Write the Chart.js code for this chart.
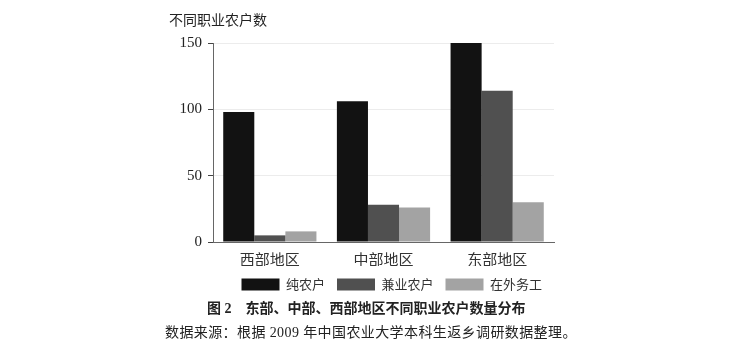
<!DOCTYPE html>
<html lang="zh">
<head>
    <meta charset="UTF-8">
    <title>东部、中部、西部地区不同职业农户数量分布</title>
    <script src="https://cdn.jsdelivr.net/npm/chart.js"></script>
    <style>
        body { margin: 0; background: #fff; width: 733px; height: 351px; position: relative; overflow: hidden;
               font-family: "Liberation Serif", "Noto Sans CJK SC", serif; color: #222; }
        #wrap { position: absolute; left: 0; top: 0; width: 733px; height: 301px; }
        .txt { position: absolute; white-space: nowrap; }
        #ytitle { left: 169px; top: 9px; font-size: 14px; }
        #caption { left: 207px; top: 297px; font-size: 14px; font-weight: bold; }
        #source { left: 165px; top: 321px; font-size: 14px; letter-spacing: 0.4px; }
    </style>
</head>
<body>
    <div id="wrap"><canvas id="chart"></canvas></div>
    <div class="txt" id="ytitle">不同职业农户数</div>
    <div class="txt" id="caption">图 2&emsp;东部、中部、西部地区不同职业农户数量分布</div>
    <div class="txt" id="source">数据来源：根据 2009 年中国农业大学本科生返乡调研数据整理。</div>

    <script>
        // data
        const regions = ['西部地区', '中部地区', '东部地区'];
        const pureFarm = [98, 106, 150];
        const partTime = [5, 28, 114];
        const migrant = [8, 26, 30];
        const yTicks = [0, 50, 100, 150];

        const cjk = '"Noto Sans CJK SC", sans-serif';
        const serif = '"Liberation Serif", serif';

        new Chart(document.getElementById('chart').getContext('2d'), {
            type: 'bar',
            data: {
                labels: regions,
                datasets: [
                    { label: '纯农户', data: pureFarm, backgroundColor: '#121212' },
                    { label: '兼业农户', data: partTime, backgroundColor: '#505050' },
                    { label: '在外务工', data: migrant, backgroundColor: '#a3a3a3' }
                ]
            },
            options: {
                responsive: true,
                maintainAspectRatio: false,
                animation: false,
                layout: { padding: { left: 160, right: 179, top: 43, bottom: 0 } },
                datasets: { bar: { categoryPercentage: 0.82, barPercentage: 1.0 } },
                plugins: {
                    legend: {
                        position: 'bottom',
                        align: 'end',
                        labels: {
                            boxWidth: 38,
                            boxHeight: 12,
                            padding: 12,
                            color: '#333',
                            font: { family: cjk, size: 13 }
                        }
                    },
                    tooltip: { enabled: false }
                },
                scales: {
                    x: {
                        grid: { display: false },
                        border: { display: true, color: '#666', width: 1 },
                        ticks: { color: '#333', font: { family: cjk, size: 15 }, padding: 0 },
                        afterFit: (s) => { s.height = 24; }
                    },
                    y: {
                        min: 0,
                        max: 150,
                        afterBuildTicks: (s) => { s.ticks = yTicks.map(v => ({ value: v })); },
                        grid: { color: '#ececec', tickColor: '#444', tickLength: 5, drawTicks: true },
                        border: { display: true, color: '#666', width: 1 },
                        ticks: { color: '#222', font: { family: serif, size: 15 }, padding: 6 },
                        afterFit: (s) => { s.width = 53; }
                    }
                }
            }
        });
    </script>
</body>
</html>
